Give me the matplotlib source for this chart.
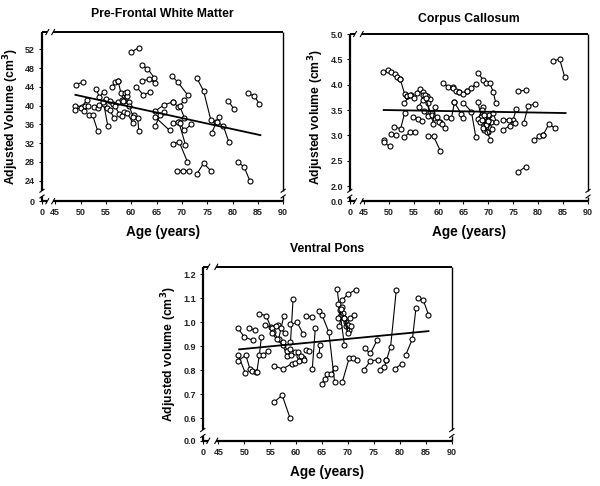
import matplotlib
matplotlib.use("Agg")
import matplotlib.pyplot as plt

plt.rcParams['font.family'] = ['Liberation Sans', 'DejaVu Sans']

# ---------------- Pre-Frontal White Matter ----------------
pfwm_ages = [
    [49.1, 50.4], [49.0, 50.2, 51.3], [49.0, 50.1, 50.8], [51.6, 52.4, 53.4],
    [53.1, 53.7, 54.6], [52.6, 53.5], [54.6, 55.4], [55.0, 55.8, 56.4],
    [56.2, 56.9, 57.4], [57.4, 58.0, 58.6], [58.8, 59.2, 59.5], [60.5, 61.3, 61.5],
    [58.5, 59.2, 60.4], [55.2, 55.8, 56.6], [56.8, 57.6, 58.2], [57.3, 58.2],
    [59.6, 60.4], [50.7, 51.5], [53.7, 54.5], [58.3, 59.1],
    [60.0, 61.5], [62.1, 63.2, 64.6], [62.1, 63.5, 64.7], [61.0, 62.4, 63.8],
    [64.7, 66.4, 68.2], [64.7, 65.7, 66.5], [64.7, 67.6], [68.2, 69.3, 70.5],
    [69.6, 70.5], [68.0, 69.2, 71.2], [68.2, 69.5, 71.1], [69.4, 70.7],
    [68.2, 69.3], [69.6, 70.5, 71.8], [69.0, 70.2, 71.5], [73.0, 74.3, 75.7],
    [73.0, 74.3, 75.7], [75.9, 76.8, 77.4], [77.0, 78.2, 79.3], [79.2, 80.3],
    [83.0, 84.3, 85.3], [81.0, 82.3, 83.4],
]
pfwm_vals = [
    [44.5, 45.0], [40.0, 39.8, 41.2], [39.1, 39.6, 39.9], [37.9, 37.9, 34.6],
    [43.6, 41.8, 43.0], [39.7, 39.4], [40.3, 35.6], [41.4, 41.0, 40.3],
    [44.0, 45.0, 45.3], [45.3, 42.6, 41.0], [42.6, 42.1, 40.7], [37.9, 37.4, 34.5],
    [38.6, 38.4, 36.2], [39.6, 39.0, 37.4], [39.9, 38.3, 37.7], [40.7, 41.2],
    [39.9, 37.6], [38.9, 39.9], [40.2, 40.8], [40.9, 43.0],
    [51.4, 52.4], [48.7, 47.9, 45.9], [45.3, 45.6, 44.9], [44.0, 42.3, 42.9],
    [38.8, 40.1, 40.8], [35.6, 37.9, 38.6], [37.6, 34.7], [40.8, 39.7, 41.1],
    [39.9, 37.4], [46.4, 45.0, 42.2], [31.9, 32.2, 28.0], [36.5, 31.7],
    [36.2, 36.5], [36.3, 34.7, 36.0], [26.0, 26.1, 26.1], [45.8, 43.1, 37.0],
    [25.5, 27.7, 26.1], [34.2, 36.4, 37.6], [36.6, 35.6, 32.2], [41.0, 39.2],
    [42.7, 42.0, 40.4], [28.0, 26.9, 24.0],
]
pfwm_fit_x = [49.0, 85.5]
pfwm_fit_y = [42.3, 33.7]
pfwm_yticks = [24, 28, 32, 36, 40, 44, 48, 52]
pfwm_ytick_labels = ['24', '28', '32', '36', '40', '44', '48', '52']

# ---------------- Corpus Callosum ----------------
cc_ages = [
    [48.9, 49.9, 50.5], [51.2, 51.7, 52.3], [52.3, 53.2, 53.7], [53.7, 54.4, 55.0],
    [49.0, 49.1, 50.2], [50.5, 51.5], [51.1, 52.4, 53.2], [53.1, 54.2, 55.2],
    [53.1, 54.3], [54.9, 55.9, 56.6], [55.6, 56.2, 56.9], [56.9, 57.5, 58.2],
    [56.0, 56.8, 57.6], [57.2, 57.8, 58.5], [57.5, 58.2, 59.0], [57.0, 57.9, 58.6],
    [57.8, 59.0, 60.4], [58.6, 59.6, 60.4], [60.0, 60.7, 61.3], [58.8, 59.3],
    [60.9, 62.0, 62.9], [63.0, 63.6, 64.2], [64.2, 64.9, 65.7], [65.7, 66.6, 67.5],
    [61.6, 62.6, 63.2], [63.2, 64.6, 65.0], [65.0, 66.6, 67.5], [67.9, 68.9, 69.5],
    [70.3, 71.0, 71.5], [67.9, 68.6, 69.5], [68.0, 68.9, 69.8], [68.3, 69.2, 70.0],
    [68.7, 69.5, 70.2], [69.0, 69.7, 70.5], [69.2, 70.0, 70.8], [70.0, 70.9, 71.6],
    [68.8, 70.4], [73.0, 74.3, 75.0, 75.6], [73.0, 74.2, 75.3], [76.0, 77.5],
    [76.0, 77.5], [77.1, 78.0, 79.3], [79.1, 80.2, 81.0], [81.0, 82.2, 83.3],
    [83.0, 84.3, 85.3],
]
cc_vals = [
    [4.26, 4.28, 4.26], [4.22, 4.16, 4.11], [4.11, 3.82, 3.77], [3.77, 3.79, 3.73],
    [2.91, 2.86, 2.78], [3.02, 3.00], [3.17, 3.13, 3.44], [2.96, 3.06, 3.07],
    [3.64, 3.79], [3.37, 3.33, 3.29], [3.84, 3.92, 3.85], [3.80, 3.77, 3.72],
    [3.56, 3.70, 3.78], [3.79, 3.63, 3.40], [3.73, 3.45, 3.35], [3.48, 3.38, 3.45],
    [2.99, 2.98, 2.69], [3.40, 3.37, 3.27], [3.26, 3.23, 3.14], [3.22, 3.55],
    [4.03, 3.96, 3.95], [3.94, 3.88, 3.85], [3.85, 3.82, 3.88], [3.88, 3.93, 4.02],
    [3.36, 3.34, 3.65], [3.65, 3.42, 3.35], [3.64, 3.47, 2.96], [4.24, 4.10, 4.03],
    [4.03, 3.85, 3.64], [3.65, 3.37, 3.22], [3.33, 3.55, 3.28], [3.27, 3.10, 3.06],
    [3.50, 3.20, 3.41], [3.15, 3.06, 3.27], [3.40, 3.30, 3.13], [3.28, 3.45, 3.27],
    [3.31, 2.91], [3.11, 3.19, 3.31, 3.52], [3.31, 3.31, 3.24], [3.87, 3.89],
    [2.28, 2.38], [3.24, 3.58, 3.62], [2.90, 2.98, 3.01], [3.01, 3.23, 3.14],
    [4.46, 4.51, 4.16],
]
cc_fit_x = [49.0, 85.5]
cc_fit_y = [3.50, 3.44]
cc_yticks = [2.0, 2.5, 3.0, 3.5, 4.0, 4.5, 5.0]
cc_ytick_labels = ['2.0', '2.5', '3.0', '3.5', '4.0', '4.5', '5.0']

# ---------------- Ventral Pons ----------------
vp_ages = [
    [48.8, 50.0, 51.6], [48.8, 50.2], [48.8, 50.3, 51.1], [51.4, 52.2],
    [51.0, 52.1], [52.4, 52.9, 53.3], [52.9, 54.2, 55.1], [53.6, 54.6],
    [54.0, 55.4, 56.4], [55.6, 56.6, 57.6], [56.2, 57.0, 57.8], [55.3, 56.3, 57.4, 58.3],
    [57.5, 58.3, 59.0], [58.8, 59.7, 60.6], [55.8, 57.4, 59.2], [59.7, 60.5, 61.3],
    [60.4, 61.0, 61.5], [55.8, 57.3, 58.8], [58.9, 59.4], [58.9, 60.2, 61.3],
    [61.8, 63.1], [63.1, 63.7], [61.8, 62.5], [64.4, 64.6],
    [64.4, 65.0, 66.3, 67.4], [64.9, 65.5, 66.0], [66.7, 67.5], [67.9, 68.4, 69.3],
    [68.9, 69.9, 71.5], [68.0, 68.8, 69.7], [68.0, 68.9, 69.6], [68.2, 69.1, 70.0],
    [68.6, 69.3, 70.1], [69.2, 70.0, 70.6], [70.3, 71.1], [68.9, 70.2, 70.9, 71.7],
    [73.2, 74.3, 75.6], [73.0, 74.3, 75.7], [76.1, 77.0, 77.4], [77.4, 78.2, 79.3],
    [79.1, 80.4], [81.1, 82.4, 83.1], [83.5, 84.5, 85.5],
]
vp_vals = [
    [0.975, 0.940, 0.926], [0.864, 0.790], [0.840, 0.864, 0.805], [0.797, 0.792],
    [0.975, 0.968], [0.792, 0.864, 0.940], [1.037, 1.028, 0.982], [0.865, 0.880],
    [0.990, 0.978, 0.988], [0.960, 0.930, 1.025], [0.985, 0.975, 0.955], [0.955, 0.930, 0.905, 0.862],
    [0.920, 0.880, 0.865], [0.890, 0.875, 0.860], [0.819, 0.806, 0.829], [0.830, 0.840, 0.850],
    [0.875, 0.860, 0.845], [0.669, 0.697, 0.603], [0.917, 1.096], [0.992, 1.000, 0.954],
    [1.026, 1.024], [0.805, 0.978], [0.885, 0.880], [0.865, 0.905],
    [1.046, 1.030, 0.960, 0.753], [0.743, 0.765, 0.785], [0.785, 0.812], [1.139, 1.050, 0.906],
    [1.093, 1.117, 1.137], [1.075, 1.030, 0.985], [1.020, 1.065, 1.000], [0.985, 1.040, 0.990],
    [1.055, 1.020, 0.970], [1.020, 0.955, 0.985], [1.020, 1.030], [0.753, 0.850, 0.853, 0.843],
    [0.892, 0.871, 0.926], [0.801, 0.839, 0.845], [0.801, 0.815, 0.843], [0.843, 0.899, 1.135],
    [0.808, 0.829], [0.864, 0.931, 1.061], [1.100, 1.093, 1.033],
]
vp_fit_x = [49.0, 85.5]
vp_fit_y = [0.888, 0.964]
vp_yticks = [0.6, 0.7, 0.8, 0.9, 1.0, 1.1, 1.2]
vp_ytick_labels = ['0.6', '0.7', '0.8', '0.9', '1.0', '1.1', '1.2']

xticks = [45, 50, 55, 60, 65, 70, 75, 80, 85, 90]
xtick_labels = ['45', '50', '55', '60', '65', '70', '75', '80', '85', '90']

fig = plt.figure(figsize=(6.0, 4.86), dpi=100)


def draw_panel(rect, ages, vals, fit_x, fit_y, title, ylabel, ylim, y0_label,
               yticks, ytick_labels, xlim, title_pad, xlabel_pad):
    ax = fig.add_axes(rect)
    for a, v in zip(ages, vals):
        ax.plot(a, v, '-', color='black', lw=0.8, marker='o', ms=3.6,
                mfc='white', mec='black', mew=0.8, zorder=3)
    ax.plot(fit_x, fit_y, '-', color='black', lw=1.3, zorder=4)
    ax.set_xlim(*xlim)
    ax.set_ylim(*ylim)
    ax.set_xticks([xlim[0]] + xticks)
    ax.set_xticklabels(['0'] + xtick_labels)
    ax.set_yticks([ylim[0]] + yticks)
    ax.set_yticklabels([y0_label] + ytick_labels)
    ax.tick_params(direction='out', length=2.5, width=0.8, labelsize=6.5, pad=2.5)
    for lab in ax.get_xticklabels() + ax.get_yticklabels():
        lab.set_fontweight('bold')
        lab.set_color('#222222')
    for s in ax.spines.values():
        s.set_visible(False)
    # broken-axis frame
    xg0 = 0.022
    xg1 = (44.6 - xlim[0]) / (xlim[1] - xlim[0])
    yg0, yg1 = 0.028, 0.062
    T = ax.transAxes
    kw = dict(transform=T, color='black', clip_on=False, solid_capstyle='butt')
    ax.plot([0, 0], [0, yg0], lw=1.6, **kw)
    ax.plot([0, 0], [yg1, 1], lw=1.6, **kw)
    ax.plot([1, 1], [0, yg0], lw=1.0, **kw)
    ax.plot([1, 1], [yg1, 1], lw=1.0, **kw)
    ax.plot([0, xg0], [0, 0], lw=1.6, **kw)
    ax.plot([xg1, 1], [0, 0], lw=1.6, **kw)
    ax.plot([0, xg0], [1, 1], lw=1.4, **kw)
    ax.plot([xg1, 1], [1, 1], lw=1.4, **kw)
    dx, dy = 0.007, 0.018
    for xx in (xg0, xg1):
        for yy in (0, 1):
            ax.plot([xx - dx, xx + dx], [yy - dy, yy + dy], lw=0.8, **kw)
    for xx in (0, 1):
        for yy in (yg0, yg1):
            ax.plot([xx - 1.5 * dx, xx + 1.5 * dx], [yy - 0.6 * dy, yy + 0.6 * dy], lw=0.8, **kw)
    ax.set_title(title, fontsize=8.8, fontweight='bold', pad=title_pad)
    ax.set_xlabel('Age (years)', fontsize=9.8, fontweight='bold', labelpad=xlabel_pad)
    ax.set_ylabel(ylabel, fontsize=8.8, fontweight='bold', labelpad=3)
    return ax


draw_panel([0.070, 0.586, 0.402, 0.348], pfwm_ages, pfwm_vals, pfwm_fit_x, pfwm_fit_y,
           'Pre-Frontal White Matter', 'Adjusted Volume (cm$^\\mathbf{3}$)',
           (19.6, 55.7), '0', pfwm_yticks, pfwm_ytick_labels, (42.4, 90), 11, 6)

draw_panel([0.583, 0.586, 0.397, 0.344], cc_ages, cc_vals, cc_fit_x, cc_fit_y,
           'Corpus Callosum', 'Adjusted volume (cm$^\\mathbf{3}$)',
           (1.70, 5.0), '0.0', cc_yticks, cc_ytick_labels, (42.2, 90), 9, 6)

draw_panel([0.338, 0.093, 0.415, 0.358], vp_ages, vp_vals, vp_fit_x, vp_fit_y,
           'Ventral Pons', 'Adjusted volume (cm$^\\mathbf{3}$)',
           (0.507, 1.232), '0.0', vp_yticks, vp_ytick_labels, (42.0, 90), 11, 6)

fig.savefig('out.png', dpi=100, facecolor='white')
